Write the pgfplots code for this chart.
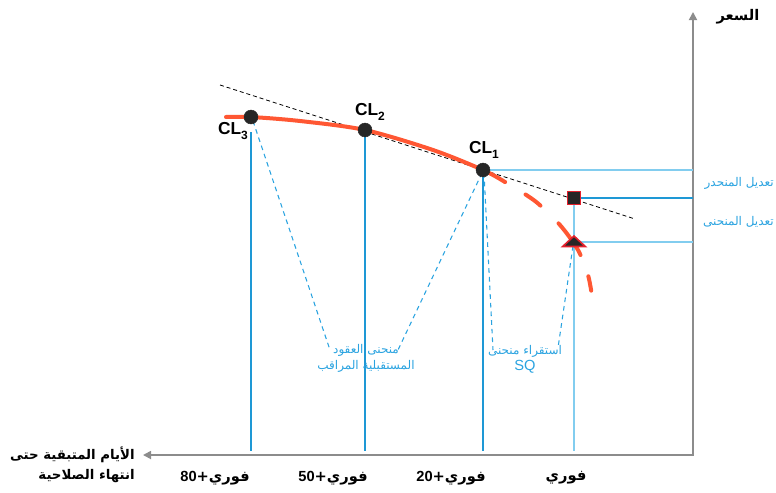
\documentclass[border=0pt]{standalone}
\usepackage{pgfplots}
\pgfplotsset{compat=1.18}
\usetikzlibrary{arrows.meta}
\usepackage{fontspec}
\setmainfont{Liberation Sans}
\newfontfamily\arabicfont[Script=Arabic]{DejaVu Sans}
\TeXXeTstate=1

\definecolor{curve}{HTML}{FF5733}
\definecolor{dot}{HTML}{262626}
\definecolor{blueA}{HTML}{1E98D5}
\definecolor{blueB}{HTML}{82CDEF}
\definecolor{bluetxt}{HTML}{2AA3E0}
\definecolor{axisgray}{HTML}{8C8C8C}
\definecolor{mred}{HTML}{E3202C}

% pixel-like units: 1 unit = 0.75pt
\newcommand{\ar}[1]{{\arabicfont\beginR #1\endR}}

\begin{document}
\begin{tikzpicture}
\begin{axis}[
  scale only axis, width=582pt, height=369pt,
  xmin=0, xmax=776, ymin=0, ymax=492, y dir=reverse,
  hide axis, clip=false,
]
\coordinate (bbA) at (rel axis cs:0,0);
\coordinate (bbB) at (rel axis cs:1,1);

% axes
\addplot[axisgray, line width=1.3pt, {Triangle[length=6pt,width=6pt]}-{Triangle[length=6pt,width=6pt]}]
  coordinates {(143,455) (693,455) (693,12)};

% blue drop lines
\addplot[blueA, line width=1pt] coordinates {(251,132) (251,451)};
\addplot[blueA, line width=1pt] coordinates {(365,132) (365,451)};
\addplot[blueA, line width=1pt] coordinates {(483,172) (483,451)};
\addplot[blueB, line width=1.5pt] coordinates {(574,200) (574,451)};
\addplot[blueB, line width=1.5pt] coordinates {(483,170) (693,170)};
\addplot[blueA, line width=1pt] coordinates {(574,198) (693,198)};
\addplot[blueB, line width=1.5pt] coordinates {(574,242) (693,242)};

% blue dashed pointers
\addplot[bluetxt, line width=0.8pt, dash pattern=on 3.5pt off 3pt] coordinates {(253,121) (330,350)};
\addplot[bluetxt, line width=0.8pt, dash pattern=on 3.5pt off 3pt] coordinates {(482,173) (398,350)};
\addplot[bluetxt, line width=0.8pt, dash pattern=on 3.5pt off 3pt] coordinates {(484,173) (493,350)};
\addplot[bluetxt, line width=0.8pt, dash pattern=on 3.5pt off 3pt] coordinates {(573,246) (558,348)};

% tangent line
\addplot[black, line width=0.6pt, dash pattern=on 3pt off 2.2pt] coordinates {(220,85) (635,219)};

% futures curve
\addplot[curve, line width=3pt, smooth, line cap=round]
  coordinates {(226,117) (251,117) (300,121) (365,130) (433,150) (483,170) (505,182)};
\addplot[curve, line width=3pt, smooth, line cap=round,
  dash pattern=on 0pt off 18pt on 14pt off 19pt on 29pt off 17pt on 11pt off 40pt]
  coordinates {(505,182) (535,201) (560,225) (578,250) (588,275) (592,296)};

% points
\addplot[only marks, mark=*, mark size=5.2pt, dot] coordinates {(251,117) (365,130) (483,170)};
\addplot[only marks, mark=square*, mark size=5pt, mark options={fill=dot, draw=mred, line width=1.2pt}]
  coordinates {(574,198)};
\addplot[only marks, mark=triangle*, mark size=7pt,
  mark options={fill=dot, draw=mred, line width=1.2pt, xscale=1.4, yscale=0.75}]
  coordinates {(574,243)};

% labels
\node[font=\bfseries\fontsize{13}{15}\selectfont] at (233,131) {CL\raisebox{-0.45ex}{\fontsize{9}{9}\selectfont 3}};
\node[font=\bfseries\fontsize{13}{15}\selectfont] at (370,112) {CL\raisebox{-0.45ex}{\fontsize{9}{9}\selectfont 2}};
\node[font=\bfseries\fontsize{13}{15}\selectfont] at (484,150) {CL\raisebox{-0.45ex}{\fontsize{9}{9}\selectfont 1}};

\node[font=\bfseries\fontsize{11}{13}\selectfont] at (738,17) {\ar{السعر}};
\node[font=\bfseries\fontsize{10}{15}\selectfont, align=right, anchor=east, inner sep=0pt] at (135,465)
  {\ar{الأيام المتبقية حتى}\\\ar{انتهاء الصلاحية}};

\node[font=\bfseries\fontsize{11}{13}\selectfont] at (215,478) {\ar{فوري+\beginL{\rmfamily 80}\endL}};
\node[font=\bfseries\fontsize{11}{13}\selectfont] at (333,478) {\ar{فوري+\beginL{\rmfamily 50}\endL}};
\node[font=\bfseries\fontsize{11}{13}\selectfont] at (451,478) {\ar{فوري+\beginL{\rmfamily 20}\endL}};
\node[font=\bfseries\fontsize{11}{13}\selectfont] at (566,478) {\ar{فوري}};

\node[text=bluetxt, font=\fontsize{9}{12}\selectfont, align=center] at (366,358)
  {\ar{منحنى العقود}\\\ar{المستقبلية المراقب}};
\node[text=bluetxt, font=\fontsize{9}{12}\selectfont, align=center] at (525,359)
  {\ar{استقراء منحنى}\\{\fontsize{11}{12}\selectfont SQ}};

\node[text=bluetxt, font=\fontsize{9}{11}\selectfont, anchor=east, inner sep=0pt] at (774,183) {\ar{تعديل المنحدر}};
\node[text=bluetxt, font=\fontsize{9}{11}\selectfont, anchor=east, inner sep=0pt] at (774,222) {\ar{تعديل المنحنى}};
\end{axis}
\pgfresetboundingbox
\path[use as bounding box] (bbA) rectangle (bbB);
\end{tikzpicture}
\end{document}
